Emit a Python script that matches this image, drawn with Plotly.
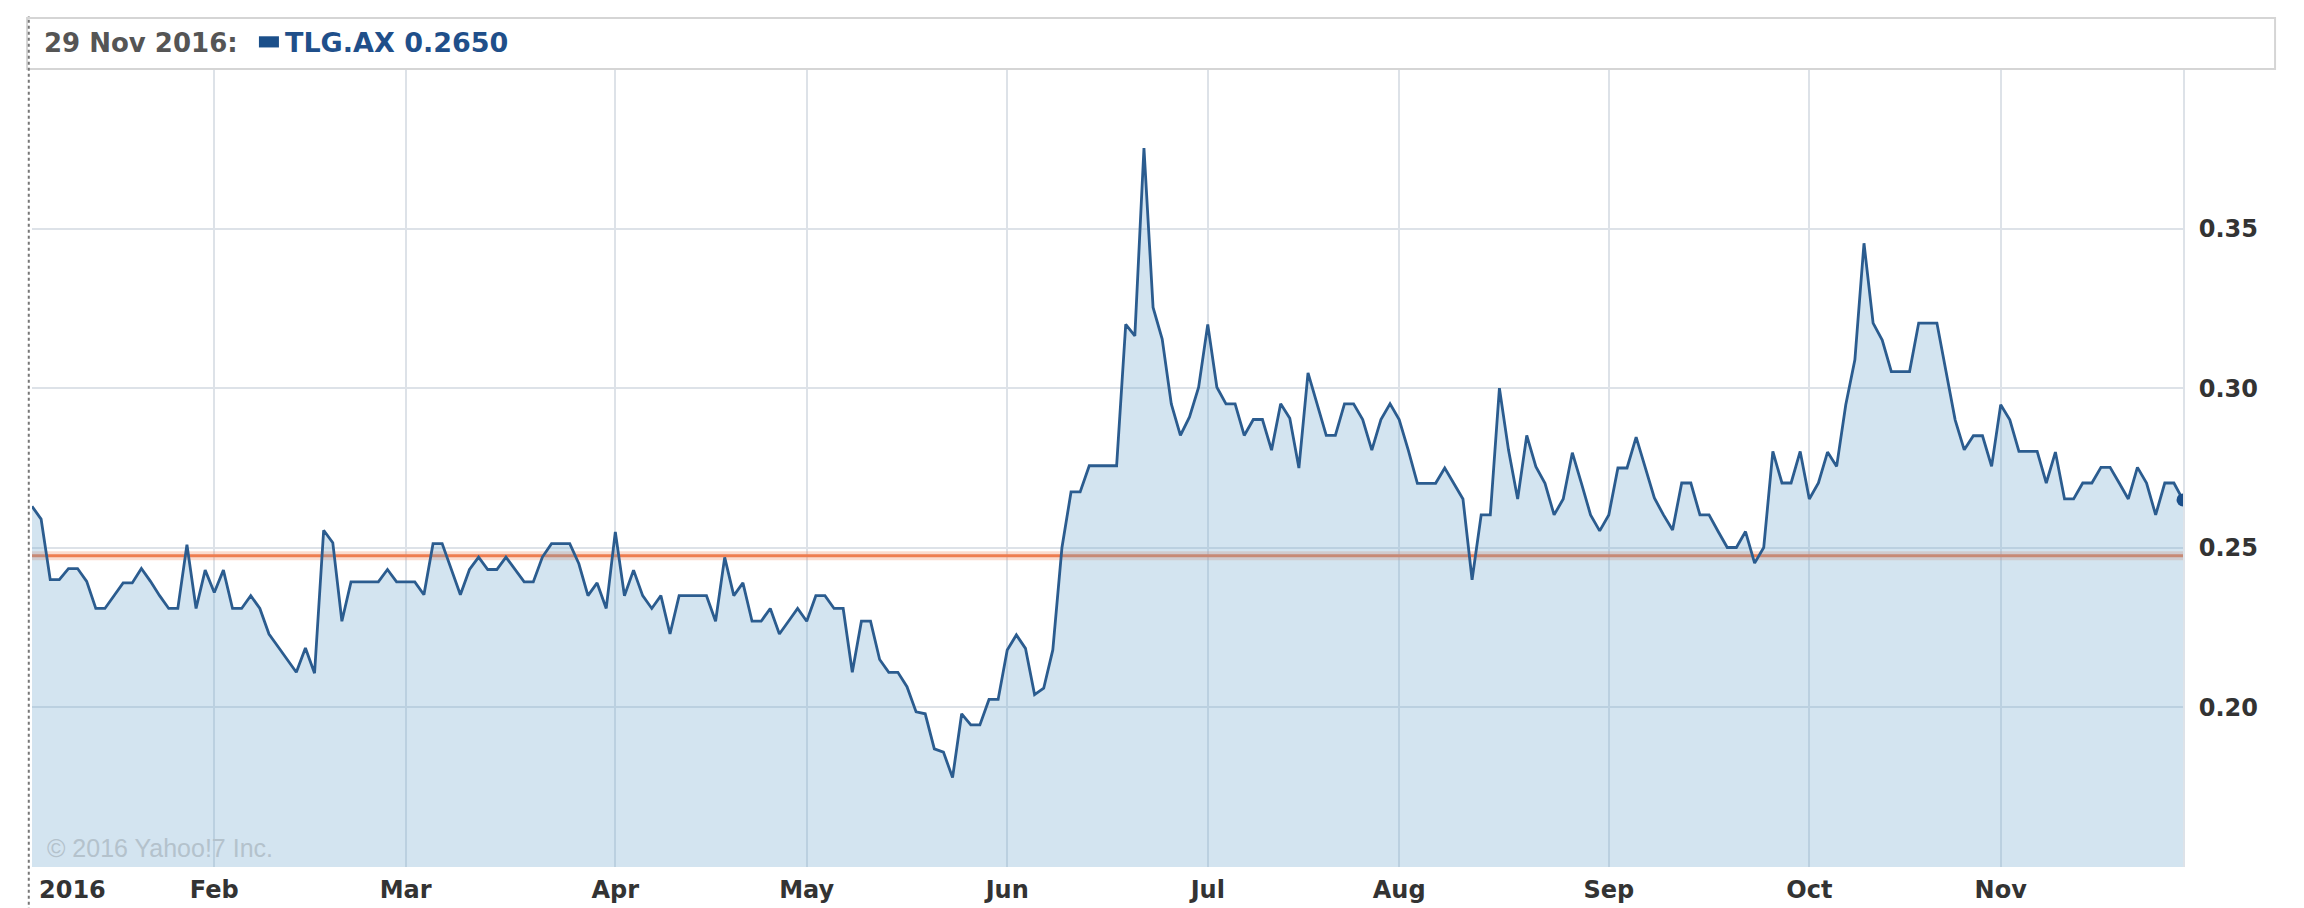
import pandas as pd
import plotly.graph_objects as go

ticker = "TLG.AX"
ref_level = 0.2475

# Closing prices, one per weekday from 4 Jan 2016 to 29 Nov 2016
close_jan_mar = [0.263, 0.259, 0.240, 0.240, 0.2435, 0.2435, 0.2395, 0.231, 0.231, 0.235,
                 0.239, 0.239, 0.2435, 0.2395, 0.235, 0.231, 0.231, 0.251, 0.231, 0.243,
                 0.236, 0.243, 0.231, 0.231, 0.235, 0.231, 0.223, 0.219, 0.215, 0.211,
                 0.2186, 0.2107, 0.2555, 0.2516, 0.227, 0.2393, 0.2393, 0.2393, 0.2393, 0.2432, 0.2393,
                 0.2393, 0.2393, 0.2353, 0.2513, 0.2513, 0.2435, 0.2353, 0.2432, 0.2471, 0.2432,
                 0.2432, 0.2471, 0.2432, 0.2393, 0.2393, 0.2471, 0.2513, 0.2513, 0.2513]
close_mar_jun = [0.245, 0.235, 0.239, 0.231, 0.255, 0.235, 0.243, 0.235, 0.231, 0.235,
                 0.223, 0.235, 0.235, 0.235, 0.235, 0.227, 0.247, 0.235, 0.239, 0.227, 0.227,
                 0.231, 0.223, 0.227, 0.231, 0.227, 0.235, 0.235, 0.231, 0.231, 0.211,
                 0.227, 0.227, 0.215, 0.211, 0.211, 0.2065, 0.1986, 0.198, 0.187, 0.186,
                 0.178, 0.198, 0.1945, 0.1945, 0.2025, 0.2025, 0.218, 0.2227, 0.2185, 0.204,
                 0.206, 0.218, 0.25, 0.2675, 0.2675, 0.2757, 0.2757, 0.2757, 0.2757]
close_jun_sep = [0.320, 0.3164, 0.3752, 0.3253, 0.3154, 0.2951, 0.2852, 0.291, 0.3003, 0.320,
                 0.3003, 0.2951, 0.2951, 0.2852, 0.2902, 0.2902, 0.2806, 0.2951, 0.2906, 0.275,
                 0.3048, 0.2951, 0.2852, 0.2852, 0.2951, 0.2951, 0.2902, 0.2806, 0.2902, 0.2951,
                 0.2902, 0.2806, 0.2702, 0.2702, 0.2702, 0.275, 0.2702, 0.2653, 0.240, 0.2603, 0.2603,
                 0.30, 0.2806, 0.2653, 0.2852, 0.2754, 0.2702, 0.2603, 0.2653, 0.2798, 0.2702,
                 0.2603, 0.2553, 0.2603, 0.275, 0.275, 0.2847]
close_sep_nov = [0.275, 0.2656, 0.2603, 0.2556, 0.2703, 0.2703, 0.2603, 0.2603, 0.2551, 0.2501,
                 0.2501, 0.2551, 0.2452, 0.2501, 0.2802, 0.2703, 0.2703, 0.2802, 0.2653, 0.2703,
                 0.28, 0.2755, 0.2948, 0.3089, 0.3454, 0.3204, 0.3151, 0.3052, 0.3052, 0.3052, 0.3204,
                 0.3204, 0.3204, 0.3052, 0.2901, 0.2807, 0.2851, 0.2851, 0.2755, 0.2948, 0.2901,
                 0.2802, 0.2802, 0.2802, 0.2703, 0.28, 0.2653, 0.2653, 0.2703, 0.2703, 0.2752,
                 0.2752, 0.2703, 0.2653, 0.2752, 0.2703, 0.2603, 0.2703, 0.2703, 0.265]

close = close_jan_mar + close_mar_jun + close_jun_sep + close_sep_nov
dates = pd.bdate_range("2016-01-04", "2016-11-29")
assert len(dates) == len(close)

month_ticks = ["2016-02-01", "2016-03-01", "2016-04-01", "2016-05-02", "2016-06-01",
               "2016-07-01", "2016-08-01", "2016-09-01", "2016-10-03", "2016-11-01"]
month_labels = ["Feb", "Mar", "Apr", "May", "Jun", "Jul", "Aug", "Sep", "Oct", "Nov"]
year_label = "2016"
y_ticks = [0.20, 0.25, 0.30, 0.35]

BOLD = dict(family="DejaVu Sans", size=24, color="#333333", weight="bold")
GRID = "#dde2e8"

fig = go.Figure()
fig.add_trace(go.Scatter(x=[dates[0], dates[-1]], y=[ref_level, ref_level], mode="lines",
                         line=dict(color="rgba(240,140,100,0.30)", width=9), hoverinfo="skip",
                         showlegend=False))
fig.add_trace(go.Scatter(x=[dates[0], dates[-1]], y=[ref_level, ref_level], mode="lines",
                         line=dict(color="#ee7d50", width=3), hoverinfo="skip", showlegend=False))
fig.add_trace(go.Scatter(x=dates, y=close, mode="lines",
                         line=dict(color="#2b5c8f", width=2.8),
                         fill="tozeroy", fillcolor="rgba(108,165,205,0.30)", showlegend=False))
fig.add_trace(go.Scatter(x=[dates[-1]], y=[close[-1]], mode="markers",
                         marker=dict(color="#1b4f8a", size=13), showlegend=False))

fig.update_layout(
    width=2304, height=908,
    margin=dict(l=32, r=121, t=69, b=41),
    paper_bgcolor="white", plot_bgcolor="white",
    showlegend=False,
    xaxis=dict(type="date", range=[dates[0], dates[-1]],
               rangebreaks=[dict(bounds=["sat", "mon"])],
               tickvals=month_ticks, ticktext=month_labels,
               showgrid=True, gridcolor=GRID, gridwidth=2,
               ticks="", tickfont=BOLD, ticklabelstandoff=6, automargin=False,
               zeroline=False, showline=False),
    yaxis=dict(side="right", range=[0.15, 0.40],
               tickvals=y_ticks, ticktext=[f"{v:.2f}" for v in y_ticks],
               showgrid=True, gridcolor=GRID, gridwidth=2,
               ticks="", tickfont=BOLD, ticklabelstandoff=9, automargin=False,
               zeroline=False, showline=True, linecolor=GRID, linewidth=2),
    shapes=[
        dict(type="rect", xref="paper", yref="paper", x0=-0.0023, x1=1.0428, y0=1.0, y1=1.0639,
             line=dict(color="#d5d5d5", width=2), fillcolor="white"),
        dict(type="rect", xref="paper", yref="paper", x0=0.1055, x1=0.1148, y0=1.027, y1=1.041,
             line=dict(width=0), fillcolor="#1b4f8a"),
        dict(type="line", xref="paper", yref="paper", x0=-0.0015, x1=-0.0015, y0=-0.07, y1=1.066,
             line=dict(color="#777777", width=2, dash="dot")),
    ],
    annotations=[
        dict(text=f"{dates[-1]:%d %b %Y}:", xref="paper", yref="paper", x=0.0045, y=1.033,
             xanchor="left", yanchor="middle", showarrow=False,
             font=dict(family="DejaVu Sans", size=26, color="#555555", weight="bold")),
        dict(text=f"{ticker} {close[-1]:.4f}", xref="paper", yref="paper", x=0.1165, y=1.033,
             xanchor="left", yanchor="middle", showarrow=False,
             font=dict(family="DejaVu Sans", size=27, color="#1f4f8a", weight="bold")),
        dict(text="© 2016 Yahoo!7 Inc.", xref="paper", yref="paper", x=0.006, y=0.024,
             xanchor="left", yanchor="middle", showarrow=False,
             font=dict(family="Liberation Sans Narrow, Liberation Sans", size=25, color="#b4c2cc")),
        dict(text=year_label, xref="paper", yref="paper", x=0.0025, y=-0.029,
             xanchor="left", yanchor="middle", showarrow=False, font=BOLD),
    ],
)

# remove the browser's default 8px body margin so the 2304x908 figure fills the window exactly
fig.write_html("out.html", config={"displayModeBar": False},
               post_script="document.body.style.margin='0px';")
